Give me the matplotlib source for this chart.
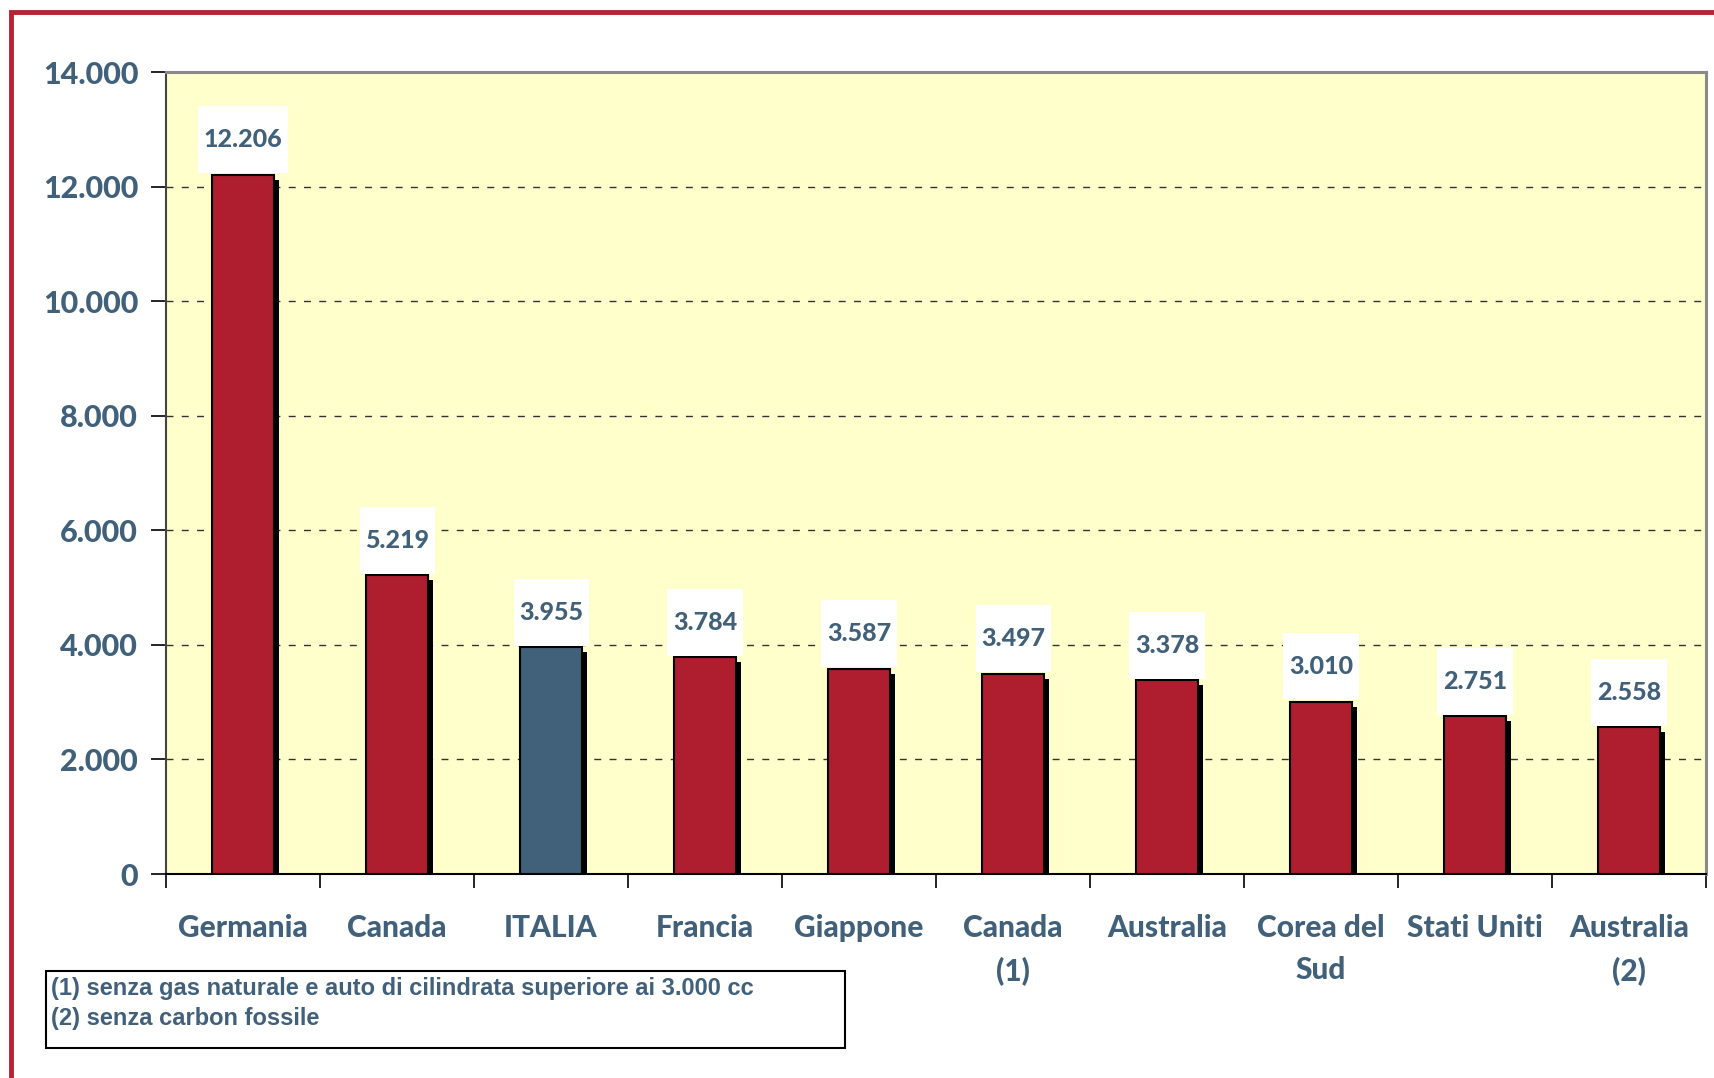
import matplotlib
matplotlib.use("Agg")
import matplotlib.pyplot as plt
import matplotlib.patheffects as pe
from matplotlib.patches import Rectangle
from matplotlib.path import Path
from matplotlib.ticker import FixedLocator, NullFormatter

paesi = ["Germania", "Canada", "ITALIA", "Francia", "Giappone", "Canada\n(1)",
         "Australia", "Corea del\nSud", "Stati Uniti", "Australia\n(2)"]
valori = [12206, 5219, 3955, 3784, 3587, 3497, 3378, 3010, 2751, 2558]
etichette = ["12.206", "5.219", "3.955", "3.784", "3.587", "3.497", "3.378",
             "3.010", "2.751", "2.558"]
yticks = [0, 2000, 4000, 6000, 8000, 10000, 12000, 14000]
ylabels = ["0", "2.000", "4.000", "6.000", "8.000", "10.000", "12.000", "14.000"]
note = ["(1) senza gas naturale e auto di cilindrata superiore ai 3.000 cc",
        "(2) senza carbon fossile"]

ROSSO = "#AE1E2E"
BLU = "#41607A"
SFONDO = "#FFFFCC"
FONT = ["Lato", "DejaVu Sans"]
PESO = 900

W, H = 1715, 1078
fig = plt.figure(figsize=(W / 100, H / 100), dpi=100)
ax = fig.add_axes([166 / W, 1 - 874 / H, (1706 - 166) / W, (874 - 72) / H])
ax.set_facecolor(SFONDO)

x = list(range(len(valori)))
colori = [BLU if p == "ITALIA" else ROSSO for p in paesi]
barre = ax.bar(x, valori, width=0.4, color=colori, edgecolor="black",
               linewidth=1.5, zorder=3)
for b in barre:
    b.set_path_effects([pe.SimplePatchShadow(offset=(3.6, -3.6),
                                             shadow_rgbFace="black", alpha=1.0),
                        pe.Normal()])


# white label box: small side padding, tall vertical padding
def box_etichetta(x0, y0, width, height, mutation_size):
    px = 0.22 * mutation_size
    py = 0.88 * mutation_size
    x0, y0 = x0 - px, y0 - py
    x1, y1 = x0 + width + 2 * px, y0 + height + 2 * py
    return Path([(x0, y0), (x1, y0), (x1, y1), (x0, y1), (x0, y0)], closed=True)


for xi, v, t in zip(x, valori, etichette):
    ax.annotate(t, xy=(xi, v), xytext=(0, 35), textcoords="offset pixels",
                ha="center", va="center", fontsize=18, fontweight=PESO,
                family=FONT, color=BLU, zorder=5,
                bbox=dict(boxstyle=box_etichetta, fc="white", ec="none"))

ax.set_xlim(-0.5, len(valori) - 0.5)
ax.set_ylim(0, 14000)

ax.set_yticks(yticks)
ax.set_yticklabels(ylabels, fontsize=22, fontweight=PESO, family=FONT, color=BLU)
ax.tick_params(axis="y", length=11, width=1.2, pad=9, direction="out")

ax.xaxis.set_major_locator(FixedLocator([i - 0.5 for i in range(len(valori) + 1)]))
ax.xaxis.set_major_formatter(NullFormatter())
ax.xaxis.set_minor_locator(FixedLocator(x))
ax.set_xticklabels(paesi, minor=True, fontsize=21.5, fontweight=PESO,
                   family=FONT, color=BLU, linespacing=1.6, va="top")
ax.tick_params(axis="x", which="major", length=10, width=1.2, direction="out")
ax.tick_params(axis="x", which="minor", length=0, pad=29)

ax.yaxis.grid(True, linestyle=(0, (5, 6)), color="#333333", linewidth=1.0, zorder=1)
ax.set_axisbelow(True)

ax.spines["left"].set_color("#444444")
ax.spines["left"].set_linewidth(1.5)
ax.spines["bottom"].set_color("black")
ax.spines["bottom"].set_linewidth(1.5)
for s in ("top", "right"):
    ax.spines[s].set_color("#8A8A8A")
    ax.spines[s].set_linewidth(2.2)

# red frame around the page (only top and left edges visible)
fig.add_artist(Rectangle((11 / W, -0.2), 1.2, 1.2 - 12 / H, transform=fig.transFigure,
                         fill=False, ec="#B52233", lw=3.5))

# footnotes box
fig.add_artist(Rectangle((46 / W, 1 - 1048 / H), (845 - 46) / W, (1048 - 971) / H,
                         transform=fig.transFigure, fill=False, ec="black", lw=1.5))
for i, riga in enumerate(note):
    fig.text(51 / W, 1 - (988 + 31 * i) / H, riga, ha="left", va="center",
             fontsize=17, fontweight="bold", color=BLU,
             family=["Liberation Sans", "DejaVu Sans"])

fig.savefig("out.png", dpi=100, facecolor="white")
